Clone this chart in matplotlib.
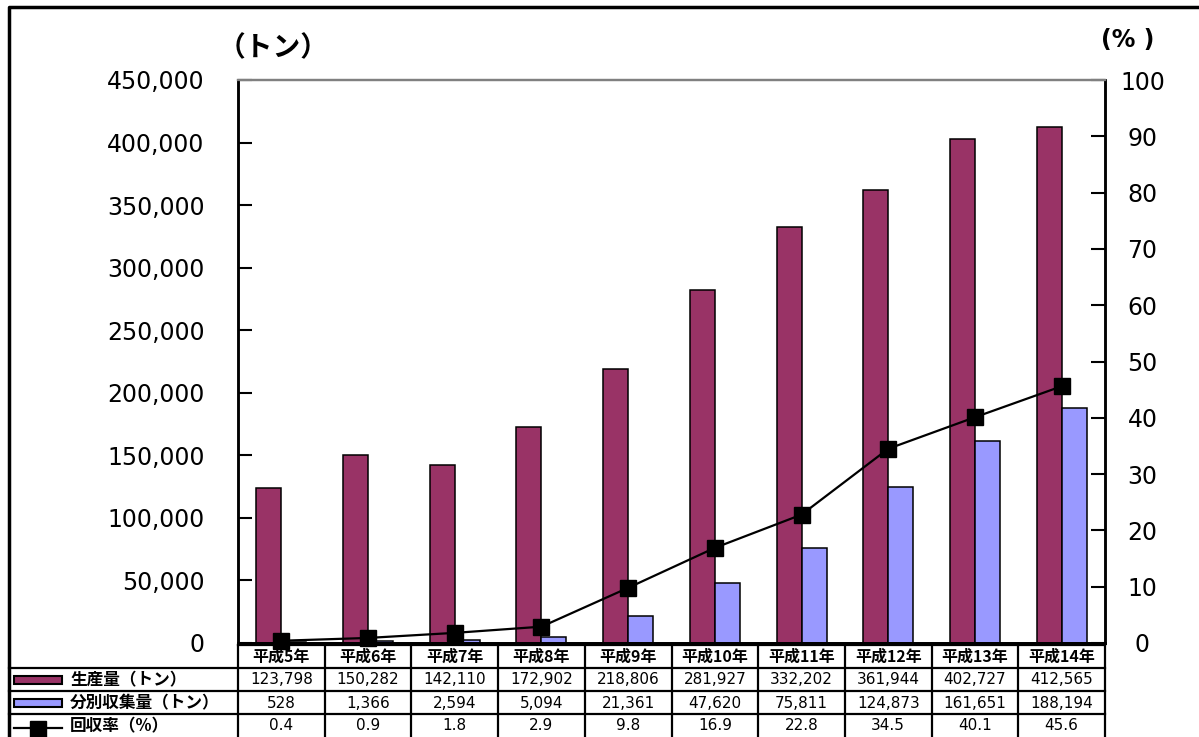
import matplotlib
matplotlib.use('Agg')
import matplotlib.pyplot as plt
from matplotlib.patches import Rectangle
from matplotlib.lines import Line2D
import numpy as np

categories = ['平成5年', '平成6年', '平成7年', '平成8年', '平成9年',
              '平成10年', '平成11年', '平成12年', '平成13年', '平成14年']
production = [123798, 150282, 142110, 172902, 218806, 281927, 332202, 361944, 402727, 412565]
collected = [528, 1366, 2594, 5094, 21361, 47620, 75811, 124873, 161651, 188194]
rate = [0.4, 0.9, 1.8, 2.9, 9.8, 16.9, 22.8, 34.5, 40.1, 45.6]
series_names = ['生産量（トン）', '分別収集量（トン）', '回収率（%）']
left_ticks = list(range(0, 450001, 50000))
right_ticks = list(range(0, 101, 10))

C_PROD = '#993366'
C_COLL = '#9999FF'

plt.rcParams['font.family'] = ['DejaVu Sans', 'Noto Sans CJK JP']
JP = ['Noto Sans CJK JP', 'DejaVu Sans']

W, H = 1199, 737
fig = plt.figure(figsize=(W / 100, H / 100), dpi=100)

# overlay in pixel coordinates (drawn beneath the chart)
tab = fig.add_axes([0, 0, 1, 1])
tab.set_xlim(0, W)
tab.set_ylim(H, 0)
tab.axis('off')

ax = fig.add_axes([238 / W, (H - 643) / H, (1105 - 238) / W, (643 - 80) / H])
x = np.arange(len(categories))
bw = 0.288
ax.bar(x - bw / 2, production, bw, color=C_PROD, edgecolor='black', linewidth=1.1, zorder=2)
ax.bar(x + bw / 2, collected, bw, color=C_COLL, edgecolor='black', linewidth=1.1, zorder=2)
ax.set_xlim(-0.5, len(categories) - 0.5)
ax.set_ylim(0, 450000)
ax.set_yticks(left_ticks)
ax.set_yticklabels([f'{v:,}' for v in left_ticks])
ax.set_xticks([])
ax.tick_params(axis='y', direction='in', length=10, width=1.5, pad=24, labelsize=17)

ax2 = ax.twinx()
ax2.set_ylim(0, 100)
ax2.set_yticks(right_ticks)
ax2.set_yticklabels([str(v) for v in right_ticks])
ax2.tick_params(axis='y', direction='in', length=10, width=1.5, pad=27, labelsize=17)
plt.setp(ax2.get_yticklabels(), ha='center')
ax2.plot(x, rate, color='black', lw=1.6, marker='s', ms=12, clip_on=False, zorder=5)

for a in (ax, ax2):
    a.spines['top'].set_color('#808080')
    a.spines['top'].set_linewidth(1.6)
    a.spines['left'].set_linewidth(1.8)
    a.spines['right'].set_linewidth(1.8)
    a.spines['bottom'].set_linewidth(2)

# unit labels
tab.text(273, 48, '（トン）', family=JP, fontsize=20, fontweight='bold', ha='center', va='center')
tab.text(1128, 40, '(% )', fontsize=17, fontweight='bold', ha='center', va='center')

# table
fig.canvas.draw()
edges = np.arange(len(categories) + 1) - 0.5
px_edges = [ax.transData.transform((e, 0))[0] for e in edges]
px_centers = [ax.transData.transform((c, 0))[0] for c in x]
row_lines = [645, 668, 691, 714]
row_mid = [657, 680, 703, 726]
lc = 'black'
for y in row_lines[1:]:
    tab.add_line(Line2D([9, px_edges[-1]], [y, y], color=lc, lw=1.6))
tab.add_line(Line2D([px_edges[0], px_edges[-1]], [645, 645], color=lc, lw=1.6))
for xe in px_edges:
    tab.add_line(Line2D([xe, xe], [645, H], color=lc, lw=1.6))

rows = [
    [f'{v:,}' for v in production],
    [f'{v:,}' for v in collected],
    [f'{v:.1f}' for v in rate],
]
for cx, cat in zip(px_centers, categories):
    tab.text(cx, row_mid[0], cat, family=JP, fontsize=11.5, fontweight='bold', ha='center', va='center')
for r, vals in enumerate(rows):
    for cx, v in zip(px_centers, vals):
        tab.text(cx, row_mid[r + 1], v, fontsize=11, ha='center', va='center')

# legend keys in the label column
tab.add_patch(Rectangle((14, row_mid[1] - 4), 48, 8, facecolor=C_PROD, edgecolor='black', lw=1.5))
tab.add_patch(Rectangle((14, row_mid[2] - 4), 48, 8, facecolor=C_COLL, edgecolor='black', lw=1.5))
tab.add_line(Line2D([14, 62], [row_mid[3] + 2, row_mid[3] + 2], color='black', lw=1.6))
tab.add_line(Line2D([38], [row_mid[3] + 3], color='black', marker='s', ms=12, lw=0))
for r, name in enumerate(series_names):
    tab.text(70, row_mid[r + 1], name, family=JP, fontsize=12, fontweight='bold', ha='left', va='center')

# outer frame
tab.add_line(Line2D([9, 9, W], [H, 7, 7], color='black', lw=2.5))

fig.savefig('out.png', dpi=100)
